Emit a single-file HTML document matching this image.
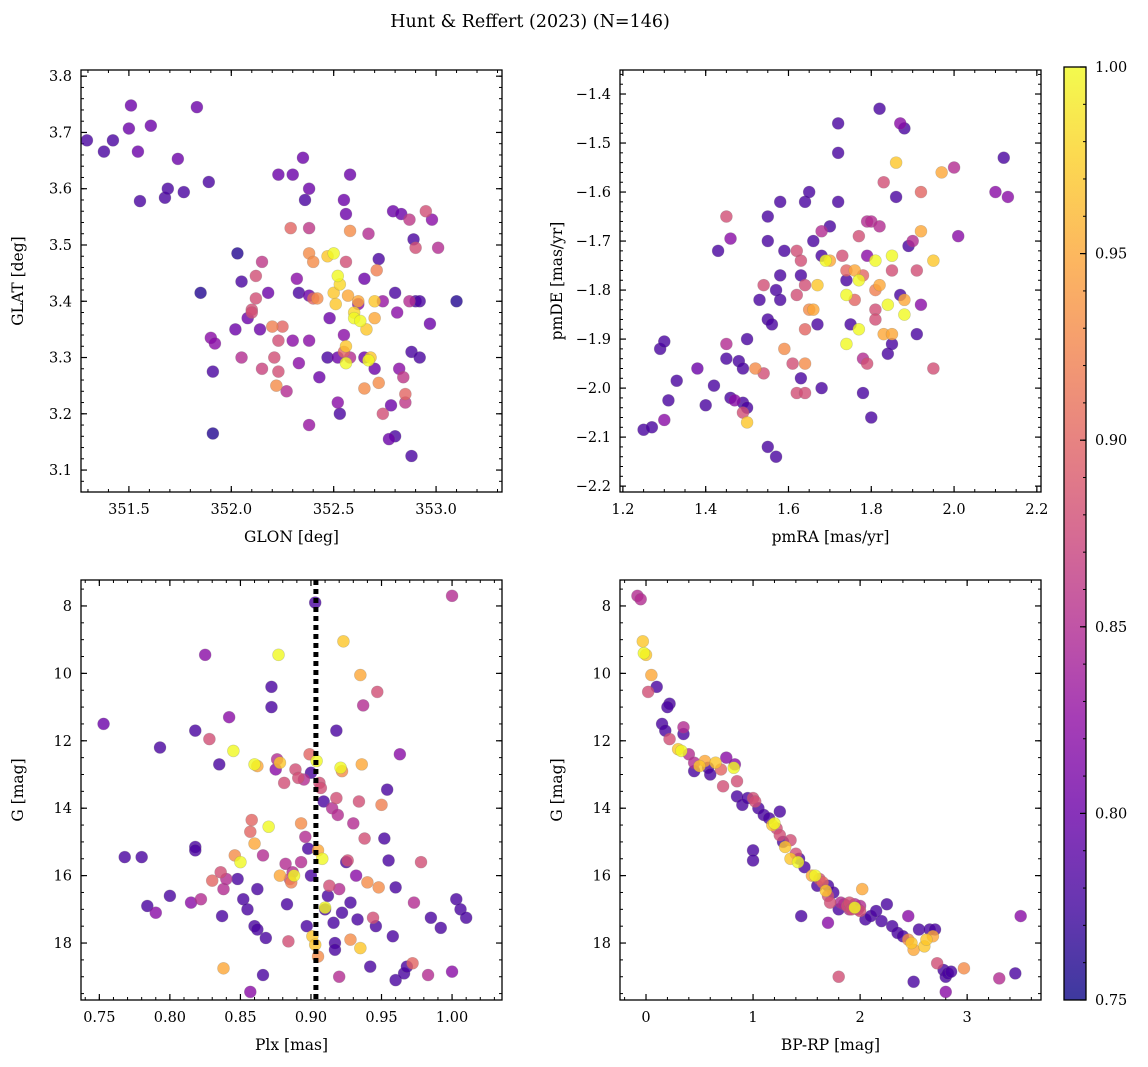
<!DOCTYPE html>
<html><head><meta charset="utf-8"><style>
html,body{margin:0;padding:0;background:#fff;}
svg{display:block;font-family:"DejaVu Serif","Liberation Serif",serif;}
</style></head><body>
<svg id="fig" width="1148" height="1067" xmlns="http://www.w3.org/2000/svg">
<text x="530" y="27" font-size="17.5" text-anchor="middle">Hunt &amp; Reffert (2023) (N=146)</text>
</svg>
<script>
// ---- data: [x, y, membership probability] (probability defaults to 0.78) ----
const glonGlat = [
[351.295,3.686],[351.378,3.666],[351.422,3.686],[351.51,3.748,0.8],[351.5,3.707,0.8],[351.544,3.666,0.8],[351.607,3.712,0.8],[351.554,3.578],[351.676,3.584],[351.69,3.6],[351.739,3.653,0.8],[351.768,3.594],[351.832,3.745,0.8],[351.89,3.612],
[351.85,3.415,0.76],[351.9,3.335,0.82],[351.92,3.325,0.82],[351.91,3.275],[351.91,3.165,0.76],[352.03,3.485,0.76],[352.05,3.435],[352.02,3.35,0.8],[352.05,3.3,0.85],[352.08,3.37,0.8],[352.1,3.385,0.88],[352.12,3.445,0.88],[352.15,3.47,0.86],[352.12,3.405,0.88],[352.1,3.38,0.88],[352.14,3.35,0.8],[352.15,3.28,0.87],[352.18,3.415,0.8],[352.2,3.355,0.92],[352.21,3.3,0.88],[352.22,3.25,0.93],[352.23,3.275,0.88],[352.23,3.33,0.88],[352.25,3.355,0.9],[352.27,3.24,0.85],[352.23,3.625,0.8],[352.3,3.625,0.8],[352.29,3.53,0.9],[352.32,3.44,0.82],[352.33,3.415],[352.33,3.29,0.82],[352.3,3.33,0.82],[352.35,3.655,0.8],[352.36,3.58],[352.38,3.6,0.8],[352.38,3.53,0.86],[352.38,3.485,0.93],[352.38,3.41,0.8],[352.4,3.47,0.93],[352.4,3.405,0.9],[352.42,3.405,0.93],[352.38,3.33,0.82],[352.38,3.18,0.83],[352.43,3.265,0.8],[352.47,3.3],[352.47,3.48,0.97],[352.5,3.485,1.0],[352.5,3.415,0.97],[352.48,3.37,0.8],[352.51,3.395,0.97],[352.52,3.445,1.0],[352.53,3.43,0.98],[352.52,3.3,0.8],[352.53,3.2],[352.52,3.22,0.82],[352.55,3.34,0.82],[352.55,3.31,0.9],[352.56,3.32,0.97],[352.56,3.29,1.0],[352.55,3.58,0.8],[352.56,3.555,0.8],[352.58,3.625,0.8],[352.58,3.525,0.93],[352.56,3.47,0.88],[352.57,3.41,0.95],[352.6,3.37,1.0],[352.6,3.38,0.98],[352.62,3.4,0.95],[352.63,3.365,1.0],[352.58,3.3,0.85],[352.62,3.395,0.82],[352.65,3.44,0.8],[352.65,3.3,0.8],[352.65,3.245,0.93],[352.66,3.35,0.97],[352.67,3.295,1.0],[352.68,3.3,0.97],[352.67,3.52,0.85],[352.7,3.4,0.97],[352.7,3.37,0.95],[352.71,3.455,0.92],[352.72,3.475],[352.7,3.28,0.8],[352.72,3.255,0.93],[352.74,3.4,0.83],[352.74,3.2,0.88],[352.77,3.155,0.8],[352.78,3.215,0.8],[352.8,3.415],[352.79,3.56,0.8],[352.81,3.38,0.82],[352.8,3.16],[352.82,3.28,0.82],[352.84,3.265,0.86],[352.85,3.235,0.9],[352.85,3.22,0.86],[352.83,3.555,0.8],[352.87,3.545,0.86],[352.87,3.4,0.85],[352.88,3.31],[352.88,3.125],[352.89,3.51],[352.9,3.495,0.88],[352.9,3.4],[352.92,3.4],[352.92,3.3],[352.95,3.56,0.88],[352.97,3.36,0.8],[352.98,3.545,0.82],[353.01,3.495,0.85],[353.1,3.4,0.76]
];
const pmraPmde = [
[1.25,-2.085],[1.27,-2.08],[1.29,-1.92],[1.30,-1.905],[1.33,-1.985],[1.31,-2.025],[1.30,-2.065,0.82],[1.38,-1.96,0.8],[1.4,-2.035],[1.42,-1.995],[1.45,-1.94],[1.46,-2.02],[1.48,-1.945],[1.49,-1.96],[1.49,-2.03],[1.5,-2.04],[1.49,-2.05,0.88],[1.5,-2.07,0.97],[1.47,-2.025,0.82],[1.55,-2.12],[1.57,-2.14],[1.52,-1.96,0.93],[1.54,-1.97,0.88],[1.45,-1.91,0.85],[1.5,-1.9],[1.55,-1.86],[1.56,-1.87],[1.53,-1.82],[1.54,-1.79,0.88],[1.55,-1.65],[1.55,-1.70],[1.58,-1.62],[1.59,-1.72],[1.58,-1.77],[1.57,-1.80],[1.58,-1.82],[1.43,-1.72],[1.45,-1.65,0.88],[1.46,-1.695,0.82],[1.59,-1.92,0.93],[1.61,-1.95,0.88],[1.62,-2.01,0.88],[1.64,-2.01,0.88],[1.64,-1.95,0.93],[1.63,-1.98],[1.62,-1.81,0.88],[1.62,-1.72,0.88],[1.63,-1.74,0.88],[1.63,-1.77],[1.64,-1.79,0.88],[1.64,-1.88,0.9],[1.65,-1.84,0.93],[1.66,-1.84,0.95],[1.67,-1.87],[1.66,-1.70],[1.64,-1.62],[1.65,-1.60],[1.68,-1.73],[1.68,-1.68,0.85],[1.69,-1.74,1.0],[1.70,-1.74,0.95],[1.67,-1.79,0.97],[1.68,-2.00],[1.7,-1.67],[1.72,-1.62],[1.72,-1.52],[1.72,-1.46],[1.73,-1.73,0.88],[1.74,-1.76,0.9],[1.74,-1.81,1.0],[1.74,-1.91,1.0],[1.75,-1.87],[1.74,-1.78],[1.76,-1.76,0.95],[1.76,-1.82,0.9],[1.77,-1.78,1.0],[1.77,-1.88,1.0],[1.77,-1.69,0.88],[1.78,-1.77,0.9],[1.78,-1.94,0.85],[1.79,-1.66,0.85],[1.79,-1.73,0.82],[1.79,-1.95,0.88],[1.78,-2.01],[1.80,-2.06],[1.80,-1.66,0.85],[1.81,-1.74,1.0],[1.81,-1.80,0.92],[1.81,-1.84,0.88],[1.81,-1.86,0.88],[1.82,-1.79,0.95],[1.82,-1.43],[1.82,-1.67,0.85],[1.83,-1.89,0.95],[1.83,-1.58,0.88],[1.84,-1.83,1.0],[1.84,-1.93],[1.85,-1.89,0.95],[1.85,-1.91],[1.85,-1.76,0.88],[1.85,-1.73,1.0],[1.86,-1.54,0.97],[1.86,-1.61],[1.87,-1.81],[1.87,-1.46,0.82],[1.88,-1.85,1.0],[1.88,-1.82,0.95],[1.88,-1.47],[1.89,-1.71],[1.90,-1.70,0.85],[1.91,-1.89],[1.91,-1.76,0.88],[1.92,-1.83,0.82],[1.92,-1.68,0.95],[1.92,-1.60,0.9],[1.95,-1.74,0.97],[1.95,-1.96,0.88],[1.97,-1.56,0.95],[2.0,-1.55,0.85],[2.01,-1.69,0.82],[2.1,-1.60,0.82],[2.12,-1.53],[2.13,-1.61,0.82]
];
const plxG = [
[0.753,11.5,0.8],[0.768,15.45],[0.78,15.45],[0.784,16.9],[0.79,17.1,0.82],[0.793,12.2],[0.80,16.6],[0.815,16.8,0.82],[0.818,15.15],[0.818,15.25],[0.818,11.7],[0.822,16.7,0.85],[0.825,9.45,0.82],[0.828,11.95,0.88],[0.83,16.15,0.9],[0.835,12.7],[0.836,15.9,0.88],[0.837,17.2],[0.838,16.4,0.85],[0.838,18.75,0.95],[0.84,16.1,0.85],[0.842,11.3,0.82],[0.845,12.3,1.0],[0.846,15.4,0.93],[0.848,16.1],[0.85,15.6,1.0],[0.852,16.7],[0.855,17.0],[0.857,14.7,0.9],[0.858,14.35,0.9],[0.86,12.7,1.0],[0.86,15.05,0.95],[0.862,12.75,0.95],[0.862,16.4],[0.86,17.5],[0.862,17.6],[0.866,18.95],[0.866,15.4,0.85],[0.868,17.85],[0.87,14.55,1.0],[0.872,10.4],[0.872,11.0],[0.875,12.85,0.82],[0.876,12.55,0.85],[0.877,9.45,1.0],[0.878,12.65,0.97],[0.878,16.0,0.95],[0.881,13.25,0.88],[0.882,15.65,0.85],[0.883,16.85],[0.884,17.95,0.88],[0.885,16.1,0.88],[0.886,16.2,0.92],[0.887,15.9,0.85],[0.888,16.0,1.0],[0.889,12.85,0.88],[0.891,13.1,0.88],[0.893,14.45,0.93],[0.893,15.6,0.85],[0.895,13.15,0.85],[0.896,14.85,0.85],[0.897,17.5],[0.899,12.4,0.9],[0.898,15.2],[0.9,16.0],[0.9,12.95],[0.901,17.8,0.97],[0.903,18.05,0.97],[0.903,7.9],[0.904,12.6,1.0],[0.905,15.25,0.95],[0.905,18.4,0.93],[0.906,13.25,0.88],[0.907,13.4,0.88],[0.908,15.5,1.0],[0.909,13.8],[0.91,16.95,1.0],[0.91,17.0],[0.912,16.6],[0.913,16.3,0.88],[0.915,14.0,0.85],[0.916,17.4],[0.917,18.0],[0.917,18.2],[0.918,11.7],[0.918,13.7,0.88],[0.919,14.2,0.85],[0.92,16.4,0.85],[0.92,19.0,0.85],[0.921,12.8,1.0],[0.922,17.1],[0.922,12.9,0.93],[0.923,9.05,0.97],[0.925,15.6],[0.926,15.55,0.88],[0.928,17.9,0.93],[0.928,16.8],[0.93,14.45,0.85],[0.932,16.0,0.82],[0.933,17.3],[0.934,13.8,0.88],[0.935,10.05,0.95],[0.935,18.15,0.97],[0.936,12.7,0.95],[0.937,10.95,0.85],[0.938,14.9,0.88],[0.94,16.2,0.93],[0.942,18.7],[0.944,17.25,0.88],[0.946,17.5],[0.947,10.55,0.88],[0.948,16.35,0.93],[0.95,13.9,0.92],[0.952,14.9],[0.954,13.45],[0.955,15.55],[0.958,17.8],[0.96,19.1],[0.96,16.35],[0.963,12.4,0.82],[0.966,18.9],[0.968,18.7],[0.972,18.6,0.9],[0.973,16.8,0.85],[0.978,15.6,0.88],[0.983,18.95,0.85],[0.985,17.25],[0.992,17.55],[1.0,7.7,0.85],[1.0,18.85,0.82],[1.003,16.7],[1.006,17.0],[1.01,17.25],[0.857,19.45,0.82]
];
const colorG = [
[-0.08,7.7,0.85],[-0.05,7.8,0.85],[-0.03,9.05,0.97],[-0.02,9.4,1.0],[0.0,9.45,0.97],[0.02,10.55,0.88],[0.05,10.05,0.95],[0.1,10.4],[0.22,10.9],[0.2,11.0],[0.15,11.5],[0.18,11.7],[0.22,11.95,0.88],[0.3,12.25,0.97],[0.33,12.3,1.0],[0.35,11.8],[0.35,11.6,0.85],[0.4,12.4,0.85],[0.45,12.65,0.85],[0.45,12.9],[0.5,12.75,0.97],[0.55,12.6,0.95],[0.58,12.8],[0.6,13.0],[0.65,12.65,0.97],[0.7,12.85,0.9],[0.72,13.35,0.88],[0.75,12.5,0.82],[0.82,12.8,1.0],[0.85,13.2,0.88],[0.83,12.7,0.82],[0.85,13.65],[0.9,13.9],[0.95,13.7],[1.0,13.7,0.88],[1.02,13.8,0.88],[1.0,15.25],[1.0,15.55],[1.05,14.0],[1.1,14.2],[1.15,14.3],[1.18,14.5,0.97],[1.2,14.45,1.0],[1.22,14.6,0.88],[1.25,14.8,0.88],[1.25,14.1],[1.28,15.0],[1.3,15.15,0.97],[1.35,14.95,0.88],[1.35,15.5,0.97],[1.4,15.35,0.88],[1.42,15.6,1.0],[1.43,15.5],[1.45,17.2],[1.48,15.75],[1.55,16.0,0.95],[1.58,16.0,1.0],[1.6,16.3],[1.62,16.1,0.88],[1.65,16.2,0.9],[1.68,16.45,0.97],[1.7,16.6,0.88],[1.7,16.3],[1.7,17.4,0.82],[1.72,16.8,0.88],[1.75,16.5],[1.8,17.0],[1.8,19.0,0.88],[1.82,16.8,0.85],[1.85,16.85,0.85],[1.88,16.9,0.88],[1.9,16.8,0.88],[1.92,17.0,0.88],[1.95,16.95,1.0],[1.98,17.0,0.85],[2.0,16.9,0.85],[2.02,16.4,0.95],[2.05,17.3],[2.1,17.2],[2.15,17.05],[2.2,17.35],[2.25,16.85],[2.3,17.5],[2.35,17.7],[2.4,17.8],[2.45,17.2,0.82],[2.45,17.9,0.93],[2.48,18.0,0.97],[2.5,18.2,0.95],[2.5,19.15],[2.55,17.6],[2.6,18.1,0.97],[2.62,17.9,0.97],[2.65,17.6],[2.68,17.8,0.95],[2.7,17.6],[2.72,18.6,0.88],[2.78,18.8],[2.8,19.0],[2.8,19.45,0.82],[2.82,18.9],[2.85,18.85],[2.97,18.75,0.93],[3.3,19.05,0.85],[3.45,18.9],[3.5,17.2,0.82],[1.95,16.85,0.85],[1.9,17.0,0.85],[2.0,17.05,0.88]
];
const cbTicks = [0.75,0.80,0.85,0.90,0.95,1.00];
const plxRef = 0.9035;

const NS='http://www.w3.org/2000/svg';
const svg=document.getElementById('fig');
function el(tag,attrs,parent){const e=document.createElementNS(NS,tag);for(const k in attrs)e.setAttribute(k,attrs[k]);(parent||svg).appendChild(e);return e;}
const stops=['#0d0887','#41049d','#6a00a8','#8f0da4','#b12a90','#cc4778','#e16462','#f2844b','#fca636','#fcce25','#f0f921'];
function hex(h){return [1,3,5].map(i=>parseInt(h.substr(i,2),16));}
function plasma(t){t=Math.max(0,Math.min(1,t));const f=t*10,i=Math.min(9,Math.floor(f)),r=f-i;const a=hex(stops[i]),b=hex(stops[i+1]);return 'rgb('+a.map((v,k)=>Math.round(v+(b[k]-v)*r)).join(',')+')';}
const pmin=0.75,pmax=1.0;
const FS=14.5;

function panel(o){
  const g=el('g',{});
  
  
  const X=v=>o.L+(v-o.x0)/(o.x1-o.x0)*(o.R-o.L);
  const Y=o.inv? v=>o.T+(v-o.y0)/(o.y1-o.y0)*(o.B-o.T) : v=>o.B-(v-o.y0)/(o.y1-o.y0)*(o.B-o.T);
  const eps=1e-9;
  for(let v=Math.ceil(o.x0/o.xmin-eps)*o.xmin; v<=o.x1+eps; v+=o.xmin){const x=X(v);el('line',{x1:x,x2:x,y1:o.B,y2:o.B-3,stroke:'#000','stroke-width':1},g);el('line',{x1:x,x2:x,y1:o.T,y2:o.T+3,stroke:'#000','stroke-width':1},g);}
  const ylo=Math.min(o.y0,o.y1),yhi=Math.max(o.y0,o.y1);
  for(let v=Math.ceil(ylo/o.ymin-eps)*o.ymin; v<=yhi+eps; v+=o.ymin){const y=Y(v);el('line',{x1:o.L,x2:o.L+3,y1:y,y2:y,stroke:'#000','stroke-width':1},g);el('line',{x1:o.R,x2:o.R-3,y1:y,y2:y,stroke:'#000','stroke-width':1},g);}
  o.xt.forEach(v=>{const x=X(v);el('line',{x1:x,x2:x,y1:o.B,y2:o.B-6,stroke:'#000','stroke-width':1.2},g);el('line',{x1:x,x2:x,y1:o.T,y2:o.T+6,stroke:'#000','stroke-width':1.2},g);
    const t=el('text',{x:x,y:o.B+22,'font-size':FS,'text-anchor':'middle'},g);t.textContent=v.toFixed(o.xd);
    });
  o.yt.forEach(v=>{const y=Y(v);el('line',{x1:o.L,x2:o.L+6,y1:y,y2:y,stroke:'#000','stroke-width':1.2},g);el('line',{x1:o.R,x2:o.R-6,y1:y,y2:y,stroke:'#000','stroke-width':1.2},g);
    const t=el('text',{x:o.L-9,y:y+5,'font-size':FS,'text-anchor':'end'},g);t.textContent=(v<0?'\u2212':'')+Math.abs(v).toFixed(o.yd);
    });
  const pts=o.data.slice().sort((a,b)=>(a[2]||0.78)-(b[2]||0.78));
  pts.forEach(d=>{const p=d[2]||0.78;const c=el('circle',{cx:X(d[0]),cy:Y(d[1]),r:6,fill:plasma((p-pmin)/(pmax-pmin)),'fill-opacity':0.8,stroke:'#777','stroke-opacity':0.35,'stroke-width':0.6},g);
    });
  if(o.vline!==undefined){const l=el('line',{x1:X(o.vline),x2:X(o.vline),y1:o.T,y2:o.B,stroke:'#000','stroke-width':5,'stroke-dasharray':'5,4'},g);
    }
  const fr=el('rect',{x:o.L,y:o.T,width:o.R-o.L,height:o.B-o.T,fill:'none',stroke:'#000','stroke-width':1.3},g);
  
  const xl=el('text',{x:(o.L+o.R)/2,y:o.B+50,'font-size':15.5,'text-anchor':'middle'},g);xl.textContent=o.xlab;
  
  const yl=el('text',{x:0,y:0,'font-size':15.5,'text-anchor':'middle',transform:'translate('+(o.L-58)+','+((o.T+o.B)/2)+') rotate(-90)'},g);yl.textContent=o.ylab;
  
}
panel({name:'glon-glat-panel',data:glonGlat,L:81,R:502,T:70,B:492,x0:351.266,x1:353.322,y0:3.061,y1:3.811,xt:[351.5,352.0,352.5,353.0],xd:1,xmin:0.1,yt:[3.1,3.2,3.3,3.4,3.5,3.6,3.7,3.8],yd:1,ymin:0.02,xlab:'GLON [deg]',ylab:'GLAT [deg]'});
panel({name:'proper-motion-panel',data:pmraPmde,L:620,R:1041,T:70,B:492,x0:1.193,x1:2.21,y0:-2.212,y1:-1.351,xt:[1.2,1.4,1.6,1.8,2.0,2.2],xd:1,xmin:0.05,yt:[-2.2,-2.1,-2.0,-1.9,-1.8,-1.7,-1.6,-1.5,-1.4],yd:1,ymin:0.02,xlab:'pmRA [mas/yr]',ylab:'pmDE [mas/yr]'});
panel({name:'parallax-mag-panel',data:plxG,L:81,R:502,T:580,B:1000,x0:0.737,x1:1.0354,y0:7.23,y1:19.69,inv:true,xt:[0.75,0.80,0.85,0.90,0.95,1.00],xd:2,xmin:0.01,yt:[8,10,12,14,16,18],yd:0,ymin:0.5,xlab:'Plx [mas]',ylab:'G [mag]',vline:plxRef});
panel({name:'color-magnitude-panel',data:colorG,L:620,R:1041,T:580,B:1000,x0:-0.243,x1:3.69,y0:7.23,y1:19.69,inv:true,xt:[0,1,2,3],xd:0,xmin:0.2,yt:[8,10,12,14,16,18],yd:0,ymin:0.5,xlab:'BP-RP [mag]',ylab:'G [mag]'});

const cb=el('g',{});


const cL=1064,cR=1086,cT=67,cB=1000;
const defs=el('defs',{},cb);const lg=el('linearGradient',{id:'pl',x1:0,y1:1,x2:0,y2:0},defs);
stops.forEach((s,i)=>el('stop',{offset:(i/10),'stop-color':s,'stop-opacity':0.8},lg));
el('rect',{x:cL,y:cT,width:cR-cL,height:cB-cT,fill:'url(#pl)',stroke:'#000','stroke-width':1.3},cb);
const CY=v=>cB-(v-pmin)/(pmax-pmin)*(cB-cT);
for(let v=pmin;v<=pmax+1e-9;v+=0.01){const y=CY(v);el('line',{x1:cR,x2:cR-3,y1:y,y2:y,stroke:'#000'},cb);}
cbTicks.forEach(v=>{const y=CY(v);el('line',{x1:cR,x2:cR-6,y1:y,y2:y,stroke:'#000','stroke-width':1.2},cb);
  const t=el('text',{x:cR+9,y:y+5,'font-size':FS},cb);t.textContent=v.toFixed(2);
  });
</script>
</body></html>
